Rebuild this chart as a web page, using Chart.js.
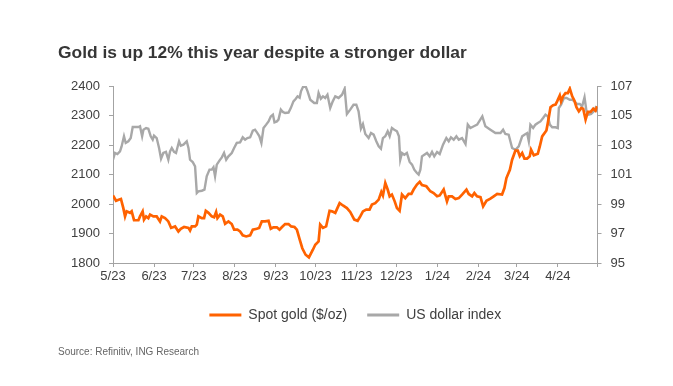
<!DOCTYPE html>
<html>
<head>
<meta charset="utf-8">
<script src="https://cdn.jsdelivr.net/npm/chart.js@4.4.1/dist/chart.umd.min.js"></script>
<style>
  html, body { margin: 0; padding: 0; background: #ffffff; }
  #wrap { position: relative; width: 673px; height: 386px; overflow: hidden; }
  #chart { position: absolute; left: 0; top: 0; }
  #title { position: absolute; left: 58px; top: 43.5px; font: bold 17.4px "Liberation Sans", Arial, sans-serif; line-height: 17.4px; color: #363636; white-space: nowrap; }
  #source { position: absolute; left: 58px; top: 347px; font: 10px "Liberation Sans", Arial, sans-serif; line-height: 10px; color: #666666; white-space: nowrap; }
</style>
</head>
<body>
<div id="wrap">
  <canvas id="chart" width="673" height="386"></canvas>
  <div id="title">Gold is up 12% this year despite a stronger dollar</div>
  <div id="source">Source: Refinitiv, ING Research</div>
</div>
<script>
// ---- data (x = days since 1 May 2023) ----
const xTickLabels = ['5/23','6/23','7/23','8/23','9/23','10/23','11/23','12/23','1/24','2/24','3/24','4/24'];
const goldTickLabels = [1800, 1900, 2000, 2100, 2200, 2300, 2400];
const dxyTickLabels = [95, 97, 99, 101, 103, 105, 107];

const goldDays = [0,2.3,4.8,6,7.8,9.1,10.3,12.9,14.1,15.9,19.2,20.4,22.4,23.4,25,26.7,28,30.5,33,35.5,36.8,39.3,41.8,43.9,46.9,49.4,51.2,53.7,57,58.2,59.5,62,63.3,64.5,67.1,68.8,70.1,72.1,74.6,76.4,77.9,78.9,80.9,82.9,84.7,87.2,89.7,91.5,94,96,98,100.6,103.6,105.6,108.6,110.4,112.4,114.9,117.5,119.2,121.2,123.8,125.8,127.5,130,132.6,134.6,137.1,138.9,141,143,145.5,148,151,152.8,155.3,156.5,158.6,161,163.6,165.4,167.9,171.2,173.7,176.7,179.2,182.3,184.8,186.8,188.8,191.3,193.8,195.6,198.1,200.7,202.7,203.9,205.7,207.5,209,210.7,212.8,214.5,216.5,218.3,220.8,223.3,225.4,227.1,229.6,231.7,233.4,236.7,239.7,242.2,244.8,246.8,249.8,252.3,253.6,256.1,258.7,261.2,263.7,267,268.7,271.3,273,275,277.6,279.6,282.1,285.1,287.6,290.2,293.9,295.7,297.2,299.8,301.5,304,305.8,307.3,309.1,310.8,312.8,314.8,315.8,317.9,320.9,322.4,324.2,327.4,328.5,330.5,332.5,334.3,335.5,337.5,338.5,340,341.8,343.6,345.1,346.9,348.6,350.1,351.9,353.7,355.2,357,358.7,360.8,362.8,364.5,365.8];
const goldPrice = [2029,2011,2015,2017,1986,1958,1975,1970,1975,1945,1945,1958,1975,1947,1958,1952,1964,1958,1958,1941,1958,1952,1941,1919,1924,1907,1916,1922,1919,1910,1924,1924,1930,1958,1952,1952,1977,1970,1958,1955,1973,1952,1964,1958,1933,1941,1932,1913,1913,1907,1894,1890,1894,1913,1916,1919,1941,1941,1943,1916,1921,1921,1913,1921,1932,1932,1924,1922,1913,1880,1850,1828,1819,1845,1862,1873,1930,1919,1924,1977,1975,1970,2003,1995,1986,1973,1947,1943,1958,1975,1981,1981,1998,2003,2015,2041,2029,2071,2049,2026,2032,2009,1986,1977,2032,2020,2034,2034,2049,2066,2075,2064,2060,2043,2037,2026,2029,2049,2009,2026,2026,2017,2020,2032,2049,2034,2026,2037,2026,2023,1992,2011,2018,2026,2034,2032,2054,2088,2116,2150,2181,2181,2162,2173,2154,2154,2162,2184,2165,2170,2195,2229,2249,2275,2328,2335,2337,2348,2368,2348,2365,2376,2376,2391,2365,2350,2328,2314,2325,2323,2286,2312,2312,2323,2316,2331];

const dxyDays = [0,1.5,3.3,5.3,6.5,8.3,9.6,11.6,13.4,14.9,16.6,19.2,20.4,22,23,25,26.7,28.5,30,31,33,34.8,36.3,38,40,41.8,43.1,44.4,46.1,47.6,49.9,51.2,53.2,55.7,57,58.2,60.2,62,63.3,64.5,67.1,69.1,70.8,72.9,74.6,75.9,77.1,78.4,80.4,82.2,83.9,85.5,87.2,89.7,91.5,93.5,96,98,99.8,101.5,103.6,105.6,107.3,109.1,110.6,112.1,113.7,115.7,117.5,119.2,120.8,122,123.8,125,126.8,128.3,130,132.6,134.3,136.3,138.1,139.4,141,142,143.5,145.5,147,149,152,154,155.3,157,158.6,160.3,162,164.1,166,167.9,170.4,173,175,176.7,179.2,181.7,183.8,185.5,187.3,188.8,190.6,193.1,194.9,196.9,198.9,200.7,202.4,203.9,205.7,207.5,209,210.7,212.5,214.5,216,217,218.3,220.1,222,224.1,225.9,227.6,229.6,230.9,232.2,233.4,235.2,237.2,239.2,241,242.7,244.8,246.8,249.3,251.8,253.6,255.3,257.4,259.4,261.2,263.7,266.3,268,270,272.6,275.1,279,281.3,285.1,288.9,292.7,294.7,296.4,298.9,301.5,304,306.5,309.1,310.8,312.8,314.1,315.3,317.4,319.1,320.9,322.9,324.9,326.7,328.5,330,331.8,334.3,336,336.8,338.5,340.6,342.6,345.1,346.9,348.6,350.6,352.6,354.4,356.2,357.7,359.5,361.2,363.2,364.5,365.8];
const dxyIndex = [102.0,102.46,102.39,102.57,102.9,103.59,103.14,103.25,103.47,104.22,104.22,104.22,104.27,103.59,104.04,104.15,104.1,103.59,103.36,103.63,103.47,102.8,102.07,102.46,102.53,102.0,102.57,102.8,102.53,102.46,103.25,102.95,103.02,103.25,102.8,102.0,101.85,101.55,99.75,99.86,99.9,99.97,100.88,101.33,101.33,101.49,100.88,101.67,101.94,102.16,102.46,102.0,102.23,102.46,102.8,103.14,103.18,103.52,103.36,103.47,103.52,103.97,104.04,103.81,103.59,103.14,104.15,104.38,104.6,104.94,105.06,104.54,104.6,104.72,105.4,105.24,105.17,105.2,105.5,105.96,106.14,106.3,106.2,106.64,106.93,106.98,106.64,106.07,105.85,105.85,106.53,106.14,106.3,106.19,106.41,105.51,105.96,106.3,106.19,106.41,106.82,105.1,105.4,105.73,105.73,105.28,104.11,104.42,103.75,103.47,103.81,103.7,103.25,102.91,102.75,103.47,103.59,103.93,103.59,104.15,104.04,103.93,103.59,102.0,102.46,102.34,102.46,101.85,101.67,101.33,101.1,100.99,101.33,102.23,102.34,102.46,102.23,102.53,102.23,102.53,102.39,103.02,103.47,103.25,103.52,103.36,103.59,103.36,103.47,103.07,104.38,104.15,104.27,104.38,104.94,104.27,104.04,103.81,103.81,104.04,103.75,103.7,102.8,102.68,102.91,103.59,103.7,103.81,103.25,104.38,104.15,104.38,104.49,104.6,104.83,105.06,104.94,104.38,104.2,104.2,104.15,105.51,105.73,106.19,106.19,106.07,106.07,105.96,105.78,105.78,105.62,106.23,105.28,105.06,105.1,105.28,105.51,105.28];

// ---- helpers ----
const startUTC = Date.UTC(2023, 4, 1);
const dayOf = (label) => { const [m, y] = label.split('/').map(Number); return (Date.UTC(2000 + y, m - 1, 1) - startUTC) / 864e5; };
const tickDays = xTickLabels.map(dayOf);
const xMax = dayOf('5/24');

const AXIS = '#a3a3a3';
const TICKFONT = { family: '"Liberation Sans", Arial, sans-serif', size: 13 };
const TICKCOLOR = '#404040';

new Chart(document.getElementById('chart'), {
  type: 'line',
  data: {
    datasets: [
      { label: 'Spot gold ($/oz)', data: goldDays.map((d, i) => ({ x: d, y: goldPrice[i] })), yAxisID: 'y',
        borderColor: '#ff6200', backgroundColor: '#ff6200', borderWidth: 2.7, pointRadius: 0, tension: 0 },
      { label: 'US dollar index', data: dxyDays.map((d, i) => ({ x: d, y: dxyIndex[i] })), yAxisID: 'y2',
        borderColor: '#a8a8a8', backgroundColor: '#a8a8a8', borderWidth: 2.4, pointRadius: 0, tension: 0 }
    ]
  },
  options: {
    responsive: false,
    animation: false,
    layout: { padding: { left: 0, right: 0, top: 86, bottom: 54 } },
    plugins: {
      tooltip: { enabled: false },
      title: { display: false },
      legend: {
        position: 'bottom',
        fullSize: false,
        labels: {
          boxWidth: 32, boxHeight: 3, padding: 20,
          color: '#404040',
          font: { family: '"Liberation Sans", Arial, sans-serif', size: 14 },
          generateLabels: (chart) => Chart.defaults.plugins.legend.labels.generateLabels(chart).map(l => Object.assign(l, { lineWidth: 0 }))
        }
      }
    },
    scales: {
      x: {
        type: 'linear', min: 0, max: xMax,
        afterBuildTicks: (s) => { s.ticks = tickDays.concat([xMax]).map(v => ({ value: v })); },
        afterFit: (s) => { s.height = 25; },
        ticks: { autoSkip: false, maxRotation: 0, padding: 2, color: TICKCOLOR, font: TICKFONT,
          callback: (v, i) => (i < xTickLabels.length ? xTickLabels[i] : '') },
        grid: { drawOnChartArea: false, drawTicks: true, tickLength: 4, color: AXIS },
        border: { display: true, color: AXIS }
      },
      y: {
        position: 'left', min: 1800, max: 2400,
        afterBuildTicks: (s) => { s.ticks = goldTickLabels.map(v => ({ value: v })); },
        afterFit: (s) => { s.width = 113; },
        ticks: { padding: 9, color: TICKCOLOR, font: TICKFONT, callback: (v) => String(v) },
        grid: { drawOnChartArea: false, drawTicks: true, tickLength: 4, color: AXIS },
        border: { display: true, color: AXIS }
      },
      y2: {
        position: 'right', min: 95, max: 107,
        afterBuildTicks: (s) => { s.ticks = dxyTickLabels.map(v => ({ value: v })); },
        afterFit: (s) => { s.width = 75.5; },
        ticks: { padding: 9, color: TICKCOLOR, font: TICKFONT, callback: (v) => String(v) },
        grid: { drawOnChartArea: false, drawTicks: true, tickLength: 4, color: AXIS },
        border: { display: true, color: AXIS }
      }
    }
  }
});
</script>
</body>
</html>
